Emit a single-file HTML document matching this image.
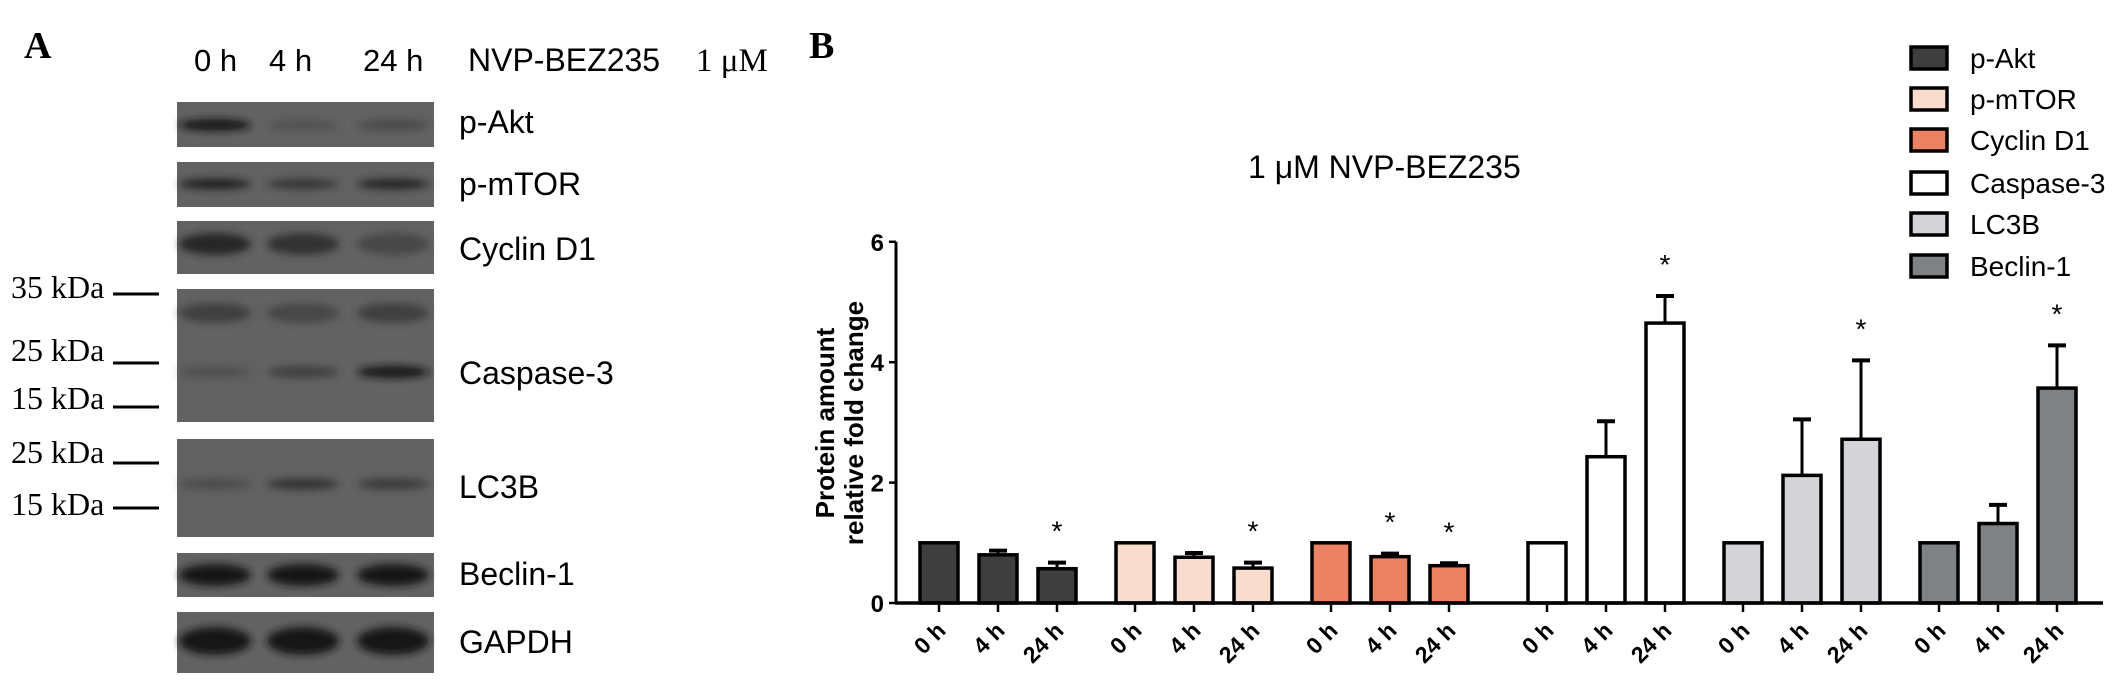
<!DOCTYPE html>
<html><head><meta charset="utf-8"><style>
html,body{margin:0;padding:0;background:#fff;}
svg{display:block;}
text{font-family:"Liberation Sans",Arial,sans-serif;}
.tm{font-family:"Liberation Serif","Times New Roman",serif;}
</style></head><body>
<svg id="fig" width="2127" height="698" viewBox="0 0 2127 698" xmlns="http://www.w3.org/2000/svg">
<defs><filter id="blur" x="-30%" y="-100%" width="160%" height="300%"><feGaussianBlur stdDeviation="4"/></filter></defs>
<g>
<text class="tm" x="24" y="58" font-size="38" font-weight="bold">A</text>
<text x="194" y="71" font-size="31">0 h</text>
<text x="269" y="71" font-size="31">4 h</text>
<text x="363" y="71" font-size="31">24 h</text>
<text x="468" y="71" font-size="32">NVP-BEZ235</text>
<text class="tm" x="696" y="71" font-size="33">1 μM</text>
<g id="blots"></g>
</g>
<g id="chart"></g>
</svg>
<script>
var NS="http://www.w3.org/2000/svg";
function mk(parent,tag,attrs,txt){var e=document.createElementNS(NS,tag);for(var k in attrs)e.setAttribute(k,attrs[k]);if(txt!=null)e.textContent=txt;parent.appendChild(e);return e;}
// ---- Western blot panel ----
var blotNames=["p-Akt","p-mTOR","Cyclin D1","Caspase-3","LC3B","Beclin-1","GAPDH"];
var blotTop=[102,162,221,289,439,553,612];
var blotBottom=[147,207,274,422,537,597,673];
var labelBase=[133,195,260,384,498,585,653];
var bands=[
 [{y:125,i:[1,0.2,0.3],h:12}],
 [{y:184,i:[0.8,0.55,0.75],h:11}],
 [{y:244,i:[0.75,0.6,0.35],h:22}],
 [{y:313,i:[0.45,0.35,0.45],h:20},{y:372,i:[0.25,0.45,0.95],h:12}],
 [{y:484,i:[0.3,0.6,0.5],h:11}],
 [{y:575,i:[0.95,0.95,0.95],h:22}],
 [{y:641,i:[1,1,0.95],h:28}]
];
var laneX=[215,303,393];
var B=document.getElementById('blots');
for(var r=0;r<blotNames.length;r++){
  var g=mk(B,'g',{});
  
  
  mk(g,'rect',{x:177,y:blotTop[r],width:257,height:blotBottom[r]-blotTop[r],fill:'#626262'});
  bands[r].forEach(function(b){
    for(var l=0;l<3;l++){
      var c=Math.round(98-b.i[l]*78);
      mk(g,'ellipse',{cx:laneX[l],cy:b.y,rx:36,ry:b.h/2,fill:'rgb('+c+','+c+','+c+')',filter:'url(#blur)'});
    }
  });
  var lbl=mk(g,'text',{x:459,y:labelBase[r],'font-size':32},blotNames[r]);
  
  
}
var mw=[["35 kDa",298,294],["25 kDa",361,363],["15 kDa",409,407],["25 kDa",463,463],["15 kDa",515,508]];
mw.forEach(function(m){
  var tt=mk(B,'text',{x:11,y:m[1],'font-size':32,'class':'tm'},m[0]);
  
  
  var ln=mk(B,'line',{x1:113,x2:159,y1:m[2],y2:m[2],stroke:'#000','stroke-width':3});
  
  
});
// ---- Bar chart panel ----
var proteins=["p-Akt","p-mTOR","Cyclin D1","Caspase-3","LC3B","Beclin-1"];
var timepoints=["0 h","4 h","24 h"];
var means=[[1,0.8,0.57],[1,0.76,0.58],[1,0.77,0.62],[1,2.43,4.65],[1,2.12,2.72],[1,1.32,3.57]];
var errs=[[0,0.07,0.1],[0,0.07,0.09],[0,0.05,0.04],[0,0.59,0.45],[0,0.93,1.31],[0,0.31,0.71]];
var sig=[[0,0,1],[0,0,1],[0,1,1],[0,0,1],[0,0,1],[0,0,1]];
var yTicks=[0,2,4,6];
var colors=["#3e3e3e","#f9dccd","#ec8163","#ffffff","#d4d4d8","#7f8285"];
var C=document.getElementById('chart');
function yS(v){return 603-v*60.2;}
function xS(gi,i){return 939+gi*196+(gi>=3?20:0)+i*59;}
var pb=mk(C,'text',{x:809,y:58,'font-size':38,'font-weight':'bold','class':'tm'},'B');


var ttl=mk(C,'text',{x:1248,y:178,'font-size':32},'1 μM NVP-BEZ235');


var yt=mk(C,'g',{transform:'translate(834,423) rotate(-90)'});


mk(yt,'text',{x:0,y:0,'text-anchor':'middle','font-size':26,'font-weight':'bold'},'Protein amount');
mk(yt,'text',{x:0,y:29,'text-anchor':'middle','font-size':26,'font-weight':'bold'},'relative fold change');
for(var gi=0;gi<means.length;gi++){
  for(var i=0;i<3;i++){
    var cx=xS(gi,i),v=means[gi][i],barTop=yS(v),e=v+errs[gi][i];
    if(errs[gi][i]>0){
      var el=mk(C,'line',{x1:cx,x2:cx,y1:yS(e),y2:barTop,stroke:'#000','stroke-width':3});
      
      
      mk(C,'line',{x1:cx-9,x2:cx+9,y1:yS(e),y2:yS(e),stroke:'#000','stroke-width':4});
    }
    var b=mk(C,'rect',{x:cx-19,y:barTop,width:38,height:yS(0)-barTop,fill:colors[gi],stroke:'#000','stroke-width':3.5});
    
    
    if(sig[gi][i]){
      var s=mk(C,'text',{x:cx,y:yS(e)-22,'text-anchor':'middle','font-size':28},'*');
      
      
    }
    mk(C,'line',{x1:cx,x2:cx,y1:603,y2:612,stroke:'#000','stroke-width':2.5});
    var xl=mk(C,'text',{x:0,y:0,'text-anchor':'end','font-size':23,'font-weight':'bold',transform:'translate('+(cx+8)+',632) rotate(-45)'},timepoints[i]);
    
    
  }
}
var ax=mk(C,'line',{x1:896,x2:896,y1:yS(6),y2:604,stroke:'#000','stroke-width':3});


var ax2=mk(C,'line',{x1:895,x2:2103,y1:603,y2:603,stroke:'#000','stroke-width':3.5});


yTicks.forEach(function(v){
  mk(C,'line',{x1:889,x2:896,y1:yS(v),y2:yS(v),stroke:'#000','stroke-width':2.5});
  var tl=mk(C,'text',{x:884,y:yS(v)+9,'text-anchor':'end','font-size':24,'font-weight':'bold'},String(v));
  
  
});
var legY=[58,99,140,183,224,266];
for(var k=0;k<proteins.length;k++){
  var lg=mk(C,'g',{});
  
  
  mk(lg,'rect',{x:1911,y:legY[k]-11,width:36,height:22,fill:colors[k],stroke:'#000','stroke-width':3.5});
  mk(lg,'text',{x:1970,y:legY[k]+10,'font-size':28},proteins[k]);
}
</script>
</body></html>
